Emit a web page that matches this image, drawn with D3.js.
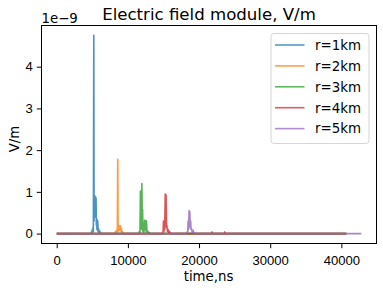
<html>
<head>
  <script src="https://d3js.org/d3.v7.min.js"></script>
  <meta charset="utf-8">
  <title>Electric field module</title>
<style>
body {
  margin: 0;
  background: #fff;
}
svg {
  background: #fff;
  font-family: "DejaVu Sans", sans-serif;
}
.axis path {
  display: none;
}
.axis line {
  stroke: #000;
  stroke-width: 1;
}
.axis text {
  font-size: 13.1px;
  fill: #000;
}
</style>
</head>
<body>
<script>
// time in ns, field in units of 1e-9 V/m
var names = ['r=1km', 'r=2km', 'r=3km', 'r=4km', 'r=5km'];
var colors = ['#1f77b4', '#ff7f0e', '#2ca02c', '#d62728', '#9467bd'];

var r1 = [[0,0],[4850,0],[4900,0.05],[4950,0],[5000,0.1],[5050,0.02],[5100,0.15],[5150,0.05],
  [5210,4.75],[5250,0.3],[5290,0.91],[5330,0.4],[5370,0.9],[5410,0.5],[5450,0.88],[5490,0.4],
  [5530,0.85],[5570,0.2],[5610,0.34],[5650,0.1],[5690,0.33],[5730,0.08],[5770,0.3],[5810,0.05],
  [5880,0.12],[5950,0],[6020,0.07],[6100,0],[6150,0.03],[6200,0],[40700,0]];
var r2 = [[0,0],[8180,0],[8250,0.05],[8320,0],[8400,0.08],[8460,0.02],[8520,0.1],[8575,1.78],
  [8620,0.05],[8680,0.12],[8740,0.19],[8800,0.08],[8860,0.19],[8920,0.1],[8980,0.18],[9040,0.05],
  [9100,0.12],[9160,0.02],[9250,0.05],[9350,0],[40700,0]];
var r3 = [[0,0],[11550,0],[11620,0.06],[11700,0.02],[11760,1.02],[11820,0.3],[11880,0.9],[11930,0.1],
  [11970,1.2],[12020,0.2],[12070,0.58],[12110,0.05],[12180,0.15],[12250,0.02],[12350,0.32],[12420,0.1],
  [12480,0.31],[12560,0.05],[12620,0.3],[12680,0.02],[12800,0.06],[12900,0],[13000,0.03],[13090,0],
  [40700,0]];
var r4 = [[0,0],[14880,0],[14950,0.05],[15000,0.3],[15060,0.05],[15120,0.28],[15180,0.1],[15250,0.95],
  [15300,0.3],[15360,0.93],[15420,0.15],[15480,0.2],[15560,0.05],[15650,0.1],[15750,0.02],[15850,0.05],
  [16000,0],[21800,0],[21840,0.04],[21880,0],[23580,0],[23620,0.04],[23660,0],[40700,0]];
var r5 = [[0,0],[18250,0],[18320,0.04],[18400,0.02],[18470,0.3],[18530,0.1],[18600,0.55],[18650,0.2],
  [18700,0.52],[18760,0.15],[18820,0.3],[18880,0.1],[18950,0.12],[19050,0.02],[19170,0.08],[19300,0],
  [19410,0.02],[19450,0],[42800,0]];
var series = [r1, r2, r3, r4, r5];

var xTicks = [0, 10000, 20000, 30000, 40000];
var yTicks = [0, 1, 2, 3, 4];

var width = 383;
var height = 290;
var plotLeft = 41.5, plotRight = 376.5, plotTop = 25.5, plotBottom = 243.5;

var svg = d3.select('body').append('svg')
  .attr('width', width)
  .attr('height', height);

var xMax = d3.max(series, function (s) { return d3.max(s, function (d) { return d[0]; }); });
var yMax = d3.max(series, function (s) { return d3.max(s, function (d) { return d[1]; }); });

var x = d3.scaleLinear()
  .domain([-0.05 * xMax, 1.05 * xMax])
  .range([plotLeft, plotRight]);
var y = d3.scaleLinear()
  .domain([-0.05 * yMax, 1.05 * yMax])
  .range([plotBottom, plotTop]);

var line = d3.line()
  .x(function (d) { return x(d[0]); })
  .y(function (d) { return y(d[1]); });

svg.append('g').selectAll('path')
  .data(series)
  .enter()
  .append('path')
  .attr('d', line)
  .attr('fill', 'none')
  .attr('stroke', function (d, i) { return colors[i]; })
  .attr('stroke-width', 1.6)
  .attr('stroke-opacity', 0.8)
  .attr('stroke-linejoin', 'round');

// frame
svg.append('rect')
  .attr('x', plotLeft)
  .attr('y', plotTop)
  .attr('width', plotRight - plotLeft)
  .attr('height', plotBottom - plotTop)
  .attr('fill', 'none')
  .attr('stroke', '#000')
  .attr('stroke-width', 1);

var xAxis = svg.append('g')
  .attr('class', 'axis')
  .attr('transform', 'translate(0,' + plotBottom + ')')
  .call(d3.axisBottom(x).tickValues(xTicks).tickSize(4.7).tickPadding(5).tickFormat(d3.format('d')));
xAxis.selectAll('text').attr('dy', '0.9em');

svg.append('g')
  .attr('class', 'axis')
  .attr('transform', 'translate(' + plotLeft + ',0)')
  .call(d3.axisLeft(y).tickValues(yTicks).tickSize(4.7).tickPadding(4).tickFormat(d3.format('d')));

svg.append('text')
  .attr('x', plotLeft)
  .attr('y', 23)
  .style('font-size', '13.3px')
  .text('1e\u22129');

svg.append('text')
  .attr('x', (plotLeft + plotRight) / 2)
  .attr('y', 20)
  .attr('text-anchor', 'middle')
  .style('font-size', '16.6px')
  .text('Electric field module, V/m');

svg.append('text')
  .attr('x', 208.5)
  .attr('y', 280.5)
  .attr('text-anchor', 'middle')
  .style('font-size', '13.3px')
  .text('time,ns');

svg.append('text')
  .attr('transform', 'translate(18.5,139) rotate(-90)')
  .attr('text-anchor', 'middle')
  .style('font-size', '13.3px')
  .text('V/m');

// legend
var legend = svg.append('g');
legend.append('rect')
  .attr('x', 271)
  .attr('y', 33.5)
  .attr('width', 98)
  .attr('height', 110)
  .attr('rx', 3)
  .attr('fill', '#fff')
  .attr('fill-opacity', 0.8)
  .attr('stroke', '#d6d6d6')
  .attr('stroke-width', 1);

var rows = legend.selectAll('g.row')
  .data(names)
  .enter()
  .append('g')
  .attr('class', 'row')
  .attr('transform', function (d, i) { return 'translate(0,' + (45 + i * 20.9) + ')'; });

rows.append('line')
  .attr('x1', 275)
  .attr('x2', 304.5)
  .attr('stroke', function (d, i) { return colors[i]; })
  .attr('stroke-width', 1.6)
  .attr('stroke-opacity', 0.75);

rows.append('text')
  .attr('x', 315)
  .attr('dy', '0.36em')
  .style('font-size', '13.4px')
  .text(function (d) { return d; });
</script>
</body>
</html>
